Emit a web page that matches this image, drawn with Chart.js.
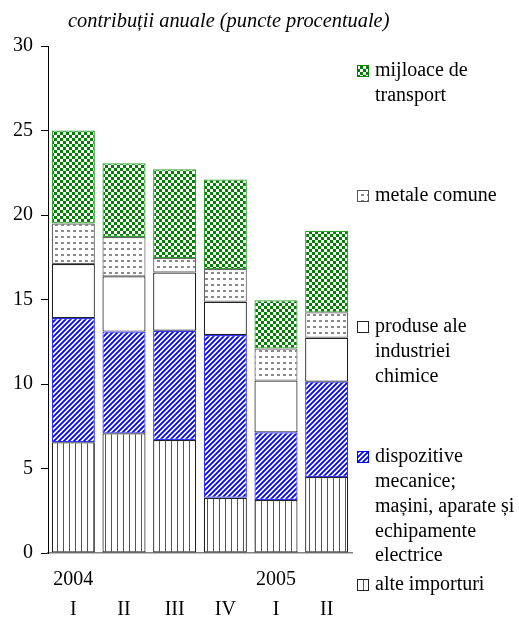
<!DOCTYPE html>
<html>
<head>
<meta charset="utf-8">
<script src="https://cdn.jsdelivr.net/npm/chart.js@4"></script>
<style>
    body { margin: 0; background: #fff; }
</style>
</head>
<body>
<canvas id="myCanvas" width="519" height="621"></canvas>
<script>
// categorii (an / trimestru)
const categories = [["2004", "I"], ["", "II"], ["", "III"], ["", "IV"], ["2005", "I"], ["", "II"]];

// contributii pe componente, de jos in sus
const alteImporturi = [6.55, 7.08, 6.69, 3.27, 3.14, 4.5];
const dispozitive = [7.35, 6.02, 6.46, 9.63, 4.0, 5.64];
const produseChimice = [3.2, 3.27, 3.45, 1.97, 3.06, 2.6];
const metaleComune = [2.4, 2.33, 0.85, 1.93, 1.9, 1.5];
const mijloaceTransport = [5.5, 4.36, 5.25, 5.3, 2.85, 4.83];

const yTicks = [0, 5, 10, 15, 20, 25, 30];

const titleText = "contribuții anuale (puncte procentuale)";

const FONT = "'Liberation Serif', 'Times New Roman', serif";

const ctx = document.getElementById("myCanvas").getContext("2d");

// MODELE DE UMPLERE
function makePattern(w, h, drawFn) {
    const c = document.createElement("canvas");
    c.width = w;
    c.height = h;
    const g = c.getContext("2d");
    g.fillStyle = "#fff";
    g.fillRect(0, 0, w, h);
    drawFn(g);
    return ctx.createPattern(c, "repeat");
}

const patChecker = makePattern(6, 6, (g) => {
    g.fillStyle = "#008000";
    g.fillRect(0, 0, 3, 3);
    g.fillRect(3, 3, 3, 3);
});

const patDots = makePattern(6, 6, (g) => {
    g.fillStyle = "#8a8a8a";
    g.fillRect(1, 2, 3, 2);
});

const patDiag = makePattern(5, 5, (g) => {
    g.strokeStyle = "#0000ff";
    g.lineWidth = 1.8;
    g.beginPath();
    g.moveTo(-1, 6); g.lineTo(6, -1);
    g.moveTo(-1, 1); g.lineTo(1, -1);
    g.moveTo(4, 6); g.lineTo(6, 4);
    g.stroke();
});

const patVert = makePattern(6, 6, (g) => {
    g.fillStyle = "#d02020";
    g.fillRect(3, 0, 1, 6);
});

// LEGENDA DIN DREAPTA
const legendItems = [
    { lines: ["mijloace de", "transport"], y: 71, fill: patChecker, border: "#008000" },
    { lines: ["metale comune"], y: 196, fill: patDots, border: "#555" },
    { lines: ["produse ale", "industriei", "chimice"], y: 327, fill: "#fff", border: "#222" },
    { lines: ["dispozitive", "mecanice;", "mașini, aparate și", "echipamente", "electrice"], y: 457, fill: patDiag, border: "#0000ff" },
    { lines: ["alte importuri"], y: 585, fill: patVert, border: "#222" },
];

const sidePlugin = {
    id: "side",
    afterDraw(chart) {
        const c = chart.ctx;
        c.save();
        c.font = "italic 20.4px " + FONT;
        c.fillStyle = "#000";
        c.textBaseline = "middle";
        c.textAlign = "left";
        c.fillText(titleText, 68, 22);

        c.font = "20px " + FONT;
        legendItems.forEach((item) => {
            c.fillStyle = item.fill;
            c.fillRect(357, item.y - 6, 12, 12);
            c.strokeStyle = item.border;
            c.lineWidth = 1;
            c.strokeRect(357.5, item.y - 5.5, 11, 11);
            c.fillStyle = "#000";
            item.lines.forEach((line, i) => {
                c.fillText(line, 375, item.y + i * 24.8);
            });
        });
        c.restore();
    },
};

const datos = {
    labels: categories,
    datasets: [
        { label: "alte importuri", data: alteImporturi, backgroundColor: patVert, borderColor: "#222" },
        { label: "dispozitive mecanice", data: dispozitive, backgroundColor: patDiag, borderColor: "#3030ff" },
        { label: "produse ale industriei chimice", data: produseChimice, backgroundColor: "#fff", borderColor: "#222" },
        { label: "metale comune", data: metaleComune, backgroundColor: patDots, borderColor: "#666" },
        { label: "mijloace de transport", data: mijloaceTransport, backgroundColor: patChecker, borderColor: "#30a030" },
    ].map((d) => Object.assign(d, {
        borderWidth: 1.2,
        borderSkipped: false,
        barPercentage: 0.85,
        categoryPercentage: 1,
    })),
};

const chart = new Chart(ctx, {
    type: "bar",
    data: datos,
    plugins: [sidePlugin],
    options: {
        responsive: false,
        animation: false,
        layout: { padding: { left: 0, right: 167, top: 46, bottom: 0 } },
        plugins: {
            legend: { display: false },
            tooltip: { enabled: false },
        },
        scales: {
            x: {
                stacked: true,
                grid: { display: false, drawTicks: false },
                border: { display: true, color: "#808080", width: 1.5 },
                ticks: {
                    color: "#000",
                    font: { family: FONT, size: 20, lineHeight: 1.5 },
                    padding: 12,
                    maxRotation: 0,
                    autoSkip: false,
                },
                afterFit: (scale) => { scale.height = 68; },
            },
            y: {
                stacked: true,
                min: 0,
                max: 30,
                afterBuildTicks: (scale) => { scale.ticks = yTicks.map((v) => ({ value: v })); },
                grid: { drawOnChartArea: false, drawTicks: true, tickLength: 7, color: "#000" },
                border: { display: true, color: "#000", width: 1 },
                ticks: {
                    color: "#000",
                    font: { family: FONT, size: 20 },
                    padding: 8,
                },
                afterFit: (scale) => { scale.width = 48; },
            },
        },
    },
});
</script>
</body>
</html>
